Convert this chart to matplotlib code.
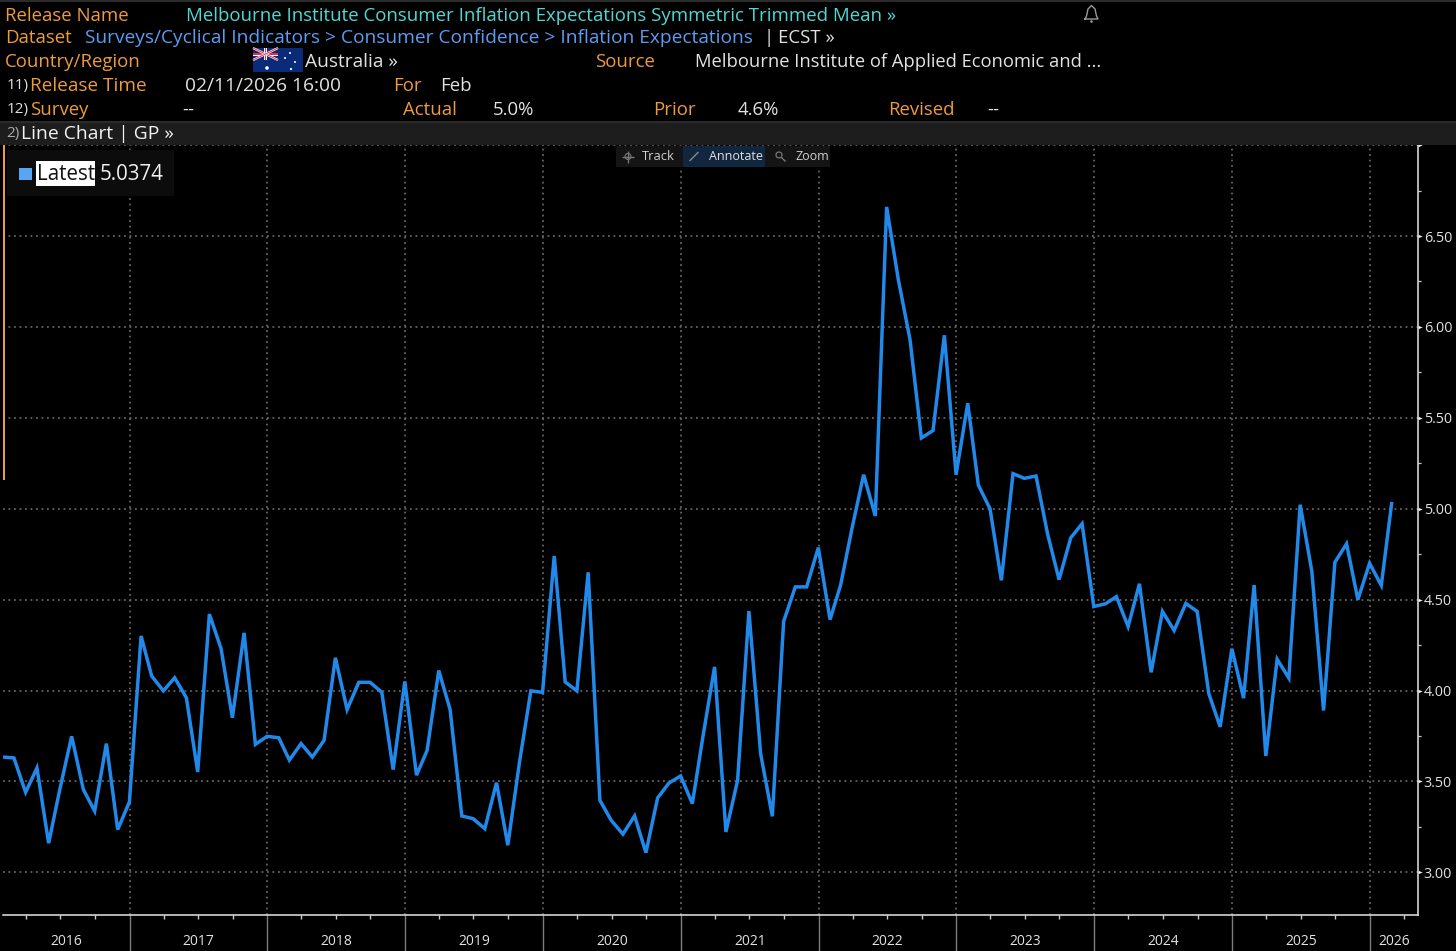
import matplotlib
matplotlib.use("Agg")
import matplotlib.dates as mdates
import matplotlib.pyplot as plt
import pandas as pd
from matplotlib.patches import Circle, Rectangle
from matplotlib.path import Path

# monthly readings, Jan 2016 .. Feb 2026
values_2016 = [3.634, 3.629, 3.44, 3.574, 3.16, 3.46, 3.748, 3.455, 3.337, 3.708, 3.235, 3.387]
values_2017 = [4.30, 4.08, 3.998, 4.07, 3.96, 3.552, 4.42, 4.23, 3.85, 4.317, 3.704, 3.748]
values_2018 = [3.74, 3.617, 3.708, 3.634, 3.726, 4.18, 3.895, 4.045, 4.045, 3.99, 3.565, 4.05]
values_2019 = [3.534, 3.67, 4.11, 3.895, 3.31, 3.295, 3.24, 3.493, 3.149, 3.607, 3.998, 3.99]
values_2020 = [4.74, 4.047, 3.998, 4.65, 3.396, 3.286, 3.21, 3.31, 3.108, 3.409, 3.491, 3.53]
values_2021 = [3.378, 3.745, 4.13, 3.222, 3.506, 4.437, 3.653, 3.308, 4.38, 4.57, 4.57, 4.786]
values_2022 = [4.39, 4.58, 4.90, 5.187, 4.96, 6.66, 6.26, 5.93, 5.389, 5.43, 5.954, 5.187]
values_2023 = [5.58, 5.13, 5.0, 4.606, 5.193, 5.167, 5.18, 4.857, 4.61, 4.84, 4.917, 4.462]
values_2024 = [4.477, 4.516, 4.352, 4.587, 4.10, 4.435, 4.33, 4.479, 4.435, 3.982, 3.80, 4.23]
values_2025 = [3.958, 4.58, 3.64, 4.172, 4.068, 5.022, 4.655, 3.89, 4.705, 4.807, 4.5, 4.70]
values_2026 = [4.578, 5.0374]

series = (values_2016 + values_2017 + values_2018 + values_2019 + values_2020 + values_2021
          + values_2022 + values_2023 + values_2024 + values_2025 + values_2026)
dates = pd.date_range("2016-01-31", periods=len(series), freq="ME")

years = list(range(2016, 2027))
y_ticks = [3.0, 3.5, 4.0, 4.5, 5.0, 5.5, 6.0, 6.5, 7.0]
y_tick_labels = ["3.00", "3.50", "4.00", "4.50", "5.00", "5.50", "6.00", "6.50", ""]
y_minor_ticks = [3.25, 3.75, 4.25, 4.75, 5.25, 5.75, 6.25, 6.75]

FONT = "Open Sans"
BLACK = "#000000"
LINE = "#2189ea"
ORANGE = "#ee9b3f"
CYAN = "#4fd9d2"
BLUE = "#5c9df2"
LIGHT = "#e2e2e2"
W, H = 1456, 951

plt.rcParams["font.family"] = FONT

fig = plt.figure(figsize=(W / 100, H / 100), dpi=100, facecolor=BLACK)

# main chart, placed by pixel edges
left, right, top, bottom = 3, 1417.5, 145.1, 915.3
ax = fig.add_axes([left / W, 1 - bottom / H, (right - left) / W, (bottom - top) / H], facecolor=BLACK)
ax.plot(dates, series, color=LINE, lw=2.5, solid_joinstyle="miter", solid_capstyle="butt", zorder=3)

x0 = pd.Timestamp("2016-01-31")
x1 = pd.Timestamp("2026-05-07")
ax.set_xlim(x0, x1)
ax.set_ylim(2.7635, 7.0)

for s in ("left", "top"):
    ax.spines[s].set_visible(False)
for s in ("right", "bottom"):
    ax.spines[s].set_color("#e6e6e6")
    ax.spines[s].set_linewidth(1.1)

# y axis on the right, triangle markers stand in for the major ticks
ax.yaxis.tick_right()
ax.set_yticks(y_ticks)
ax.set_yticklabels(y_tick_labels, fontsize=10.4, color=LIGHT)
ax.set_yticks(y_minor_ticks, minor=True)
ax.tick_params(axis="y", which="major", length=0, pad=4.5)
ax.tick_params(axis="y", which="minor", length=2.4, width=0.9, color="#cccccc")
wedge = Path([(0, -0.55), (1.35, 0), (0, 0.55), (0, -0.55)])
ax.plot([1] * len(y_ticks), y_ticks, transform=ax.get_yaxis_transform(), ls="none",
        marker=wedge, ms=6, color="#f0f0f0", mew=0, clip_on=False, zorder=4)

# x axis: year dividers run to the image edge, quarter ticks are short
ax.xaxis.set_major_locator(mdates.YearLocator())
ax.xaxis.set_minor_locator(mdates.MonthLocator(bymonth=[4, 7, 10]))
ax.xaxis.set_major_formatter(plt.NullFormatter())
ax.tick_params(axis="x", which="major", length=27, width=1.0, color="#7d7d7d")
ax.tick_params(axis="x", which="minor", length=2.6, width=1.0, color="#cccccc")

for yr in years:
    a = max(pd.Timestamp(f"{yr}-01-01"), x0)
    b = min(pd.Timestamp(f"{yr + 1}-01-01"), x1)
    ax.annotate(str(yr), xy=(mdates.date2num(a + (b - a) / 2), 0), xycoords=ax.get_xaxis_transform(),
                xytext=(0, -18.6), textcoords="offset points", ha="center", va="center",
                fontsize=10, color=LIGHT, annotation_clip=False)

ax.grid(True, which="major", color="#747474", lw=1.1, ls=(0, (1.2, 2.4)), zorder=1)
ax.set_axisbelow(True)

# header, legend and toolbar drawn on an overlay in image pixels
ov = fig.add_axes([0, 0, 1, 1], zorder=5)
ov.set_xlim(0, W)
ov.set_ylim(H, 0)
ov.axis("off")


def rect(x, y, w, h, color, **kw):
    ov.add_patch(Rectangle((x, y), w, h, facecolor=color, edgecolor="none", **kw))


def put(x, y, s, color=LIGHT, size=13.4, **kw):
    ov.text(x, y + 0.8, s, color=color, fontsize=size, va="center", ha="left", **kw)


rect(0, 0, W, 2, "#2b2b2b")
rect(0, 121, W, 24, "#1d1d1d")
rect(0, 121, W, 2, "#2a2a2a")
rect(2.5, 145, 2, 335, ORANGE)

put(5, 15, "Release Name", ORANGE)
put(186, 15, "Melbourne Institute Consumer Inflation Expectations Symmetric Trimmed Mean »", CYAN)
put(5, 37, "Dataset", ORANGE)
put(85, 37, "Surveys/Cyclical Indicators > Consumer Confidence > Inflation Expectations", BLUE, size=13.75)
put(763, 37, "|")
put(778, 37, "ECST »")
put(5, 61, "Country/Region", ORANGE)
put(305, 61, "Australia »", size=13.8)
put(595, 61, "Source", ORANGE)
put(695, 61, "Melbourne Institute of Applied Economic and ...", size=13.2)
put(7, 85, "11)", size=11)
put(30, 85, "Release Time", ORANGE, size=13.7)
put(185, 85, "02/11/2026 16:00", size=13.75)
put(393, 85, "For", ORANGE)
put(440, 85, "Feb")
put(7, 109, "12)", size=11)
put(30, 109, "Survey", ORANGE)
put(182, 109, "--")
put(403, 109, "Actual", ORANGE)
put(493, 109, "5.0%")
put(653, 109, "Prior", ORANGE)
put(738, 109, "4.6%")
put(888, 109, "Revised", ORANGE)
put(987, 109, "--")
put(6, 133, "2)", "#aaaaaa", size=11)
put(21, 133, "Line Chart | GP »", "#f2f2f2", size=13.9)

# australian flag
rect(253, 48, 50, 24, "#0a2a7a")
for d in ((253, 48, 278, 60), (253, 60, 278, 48)):
    ov.plot([d[0], d[2]], [d[1], d[3]], color="white", lw=1.6, solid_capstyle="butt")
    ov.plot([d[0], d[2]], [d[1], d[3]], color="#d9324a", lw=0.7, solid_capstyle="butt")
rect(253, 52.5, 25, 3, "white")
rect(264, 48, 3, 12, "white")
rect(253, 53.2, 25, 1.6, "#d9324a")
rect(264.7, 48, 1.6, 12, "#d9324a")
for sx, sy, sr in ((267, 68, 1.8), (290, 53, 1), (285, 58, 1), (295, 62, 1), (291, 69, 1.1)):
    ov.add_patch(Circle((sx, sy), sr, facecolor="white", edgecolor="none"))

# bell
ov.plot([1085, 1086.5, 1088, 1091.5, 1095, 1096.5, 1098, 1085],
        [19, 16, 9, 5.5, 9, 16, 19, 19], color="#9a9a9a", lw=1.0)
ov.add_patch(Circle((1091.5, 21.5), 1.3, facecolor="#9a9a9a", edgecolor="none"))

# legend box
rect(7, 150, 167, 46, "#0c0c0c")
rect(19, 168, 13, 12, "#59a5f4")
rect(36, 161, 59, 25, "white")
put(37, 173.5, "Latest", "#111111", size=14.8)
put(100, 173.5, "5.0374", "#f0f0f0", size=14.8)

# toolbar
rect(616, 146, 214, 21, "#141414")
rect(683, 146, 82, 21, "#12273f")
put(642, 156, "Track", "#d0d0d0", size=9.3)
put(709, 156, "Annotate", "#e0e0e0", size=9)
put(795, 156, "Zoom", "#d0d0d0", size=9)
ov.plot([628], [156.5], marker="+", ms=9, mew=1.0, color="#777777")
ov.add_patch(Circle((628, 156.5), 3, facecolor="none", edgecolor="#777777", lw=0.8))
ov.plot([690, 698], [160.5, 152.5], color="#8a8a8a", lw=1.0)
ov.add_patch(Circle((779, 155), 3, facecolor="none", edgecolor="#777777", lw=0.9))
ov.plot([781.5, 785], [157.5, 161], color="#777777", lw=1.0)

fig.savefig("out.png", dpi=100, facecolor=BLACK)
plt.close(fig)
